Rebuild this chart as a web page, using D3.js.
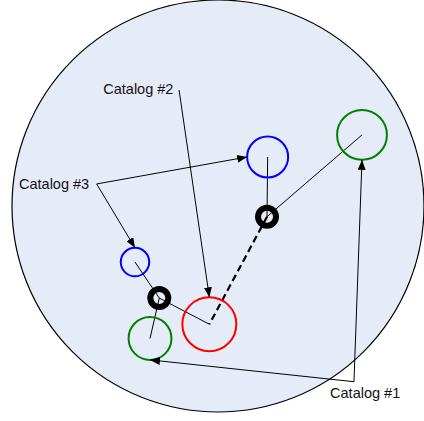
<!DOCTYPE html>
<html>
<head>
<meta charset="utf-8">
<script src="https://cdn.jsdelivr.net/npm/d3@7"></script>
<style>
  body { margin: 0; background: #fff; }
  text { font-family: "Liberation Sans", Arial, sans-serif; font-size: 14.5px; fill: #111; }
</style>
</head>
<body>
<div class="board"></div>
<script>
var width = 424;
var height = 421;

// sky coords, big circle is the unit disc
var srcCatalog = [1, 1, 2, 3, 3];
var srcX = [0.699, -0.330, -0.042, 0.241, -0.403];
var srcY = [0.345, -0.643, -0.574, 0.238, -0.272];
var srcErr = [0.121, 0.104, 0.131, 0.0995, 0.069];

// cross-match positions
var matchX = [-0.285, 0.238];
var matchY = [-0.447, -0.052];

// links: [match, source, dashed]
var links = [[0, 4, 0], [0, 1, 0], [0, 2, 0], [1, 3, 0], [1, 0, 0], [1, 2, 1]];

var labelText = ["Catalog #1", "Catalog #2", "Catalog #3"];
var labelX = [0.544, -0.557, -0.966];
var labelY = [-0.930, 0.544, 0.083];
var anchorX = [0.660, -0.189, -0.589];
var anchorY = [-0.853, 0.563, 0.107];
// arrows: [label, source, side of circle]
var arrows = [[0, 0, "s"], [0, 1, "s"], [1, 2, "n"], [2, 3, "w"], [2, 4, "n"]];

var colors = { 1: "#008000", 2: "#ff0000", 3: "#0000ff" };

var x = d3.scaleLinear().domain([-1, 1]).range([12, 424]);
var y = d3.scaleLinear().domain([-1, 1]).range([412, 0]);
var r = d3.scaleLinear().domain([0, 1]).range([0, 206]);

var svg = d3.select(".board").append("svg")
  .attr("width", width)
  .attr("height", height);

svg.append("defs").append("marker")
  .attr("id", "arrow")
  .attr("viewBox", "0 0 10 8")
  .attr("refX", 10)
  .attr("refY", 4)
  .attr("markerWidth", 10)
  .attr("markerHeight", 8)
  .attr("markerUnits", "userSpaceOnUse")
  .attr("orient", "auto")
  .append("path")
  .attr("d", "M0,0L10,4L0,8Z")
  .attr("fill", "#000");

// sky
svg.append("circle")
  .attr("cx", x(0))
  .attr("cy", y(0))
  .attr("r", r(1))
  .attr("fill", "#e6ecf7")
  .attr("stroke", "#000")
  .attr("stroke-width", 1.2);

// match -> source lines
svg.selectAll(".link").data(links).enter().append("line")
  .attr("class", "link")
  .attr("x1", function(d){ return x(matchX[d[0]]); })
  .attr("y1", function(d){ return y(matchY[d[0]]); })
  .attr("x2", function(d){ return x(srcX[d[1]]); })
  .attr("y2", function(d){ return y(srcY[d[1]]); })
  .attr("stroke", "#000")
  .attr("stroke-width", function(d){ return d[2] ? 2.2 : 1; })
  .attr("stroke-dasharray", function(d){ return d[2] ? "7,4" : null; });

// sources
svg.selectAll(".src").data(srcX).enter().append("circle")
  .attr("class", "src")
  .attr("cx", function(d){ return x(d); })
  .attr("cy", function(d, i){ return y(srcY[i]); })
  .attr("r", function(d, i){ return r(srcErr[i]); })
  .attr("fill", "none")
  .attr("stroke", function(d, i){ return colors[srcCatalog[i]]; })
  .attr("stroke-width", 2);

// matches
svg.selectAll(".match").data(matchX).enter().append("circle")
  .attr("class", "match")
  .attr("cx", function(d){ return x(d); })
  .attr("cy", function(d, i){ return y(matchY[i]); })
  .attr("r", 9)
  .attr("fill", "none")
  .attr("stroke", "#000")
  .attr("stroke-width", 6);

var edge = function(i, side) {
  var cx = x(srcX[i]), cy = y(srcY[i]), rr = r(srcErr[i]);
  if (side == "n") return [cx, cy - rr];
  if (side == "s") return [cx, cy + rr];
  if (side == "w") return [cx - rr, cy];
  return [cx + rr, cy];
};

svg.selectAll(".arrow").data(arrows).enter().append("line")
  .attr("class", "arrow")
  .attr("x1", function(d){ return x(anchorX[d[0]]); })
  .attr("y1", function(d){ return y(anchorY[d[0]]); })
  .attr("x2", function(d){ return edge(d[1], d[2])[0]; })
  .attr("y2", function(d){ return edge(d[1], d[2])[1]; })
  .attr("stroke", "#000")
  .attr("stroke-width", 1)
  .attr("marker-end", "url(#arrow)");

svg.selectAll(".label").data(labelText).enter().append("text")
  .attr("class", "label")
  .attr("x", function(d, i){ return x(labelX[i]); })
  .attr("y", function(d, i){ return y(labelY[i]); })
  .text(function(d){ return d; });
</script>
</body>
</html>
